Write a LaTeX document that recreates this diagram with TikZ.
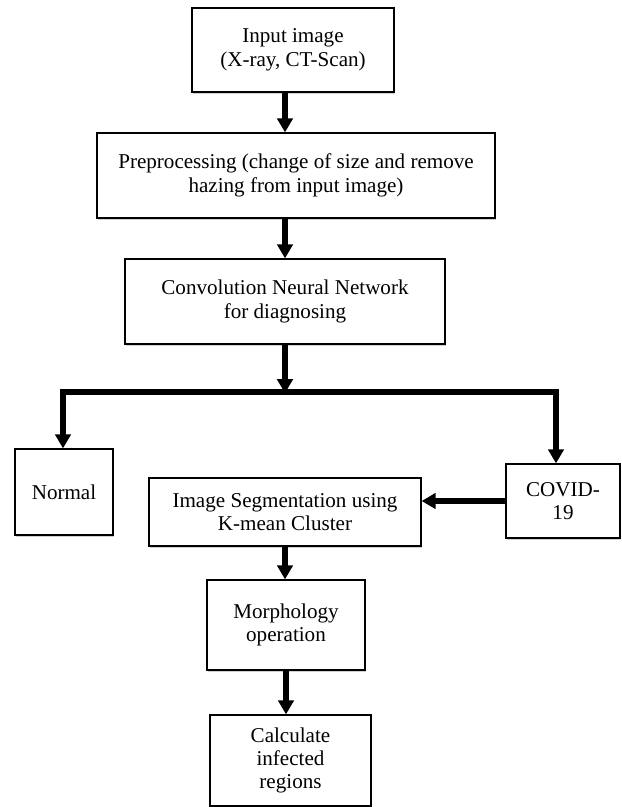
\documentclass[tikz,border=0pt]{standalone}
\usepackage{fontspec}
\setmainfont{Liberation Serif}
\usetikzlibrary{arrows.meta,positioning,shadows}

\begin{document}
\begin{tikzpicture}[
	font=\fontsize{18}{20}\selectfont,
	>={Triangle[width=0.46cm,length=0.42cm]},
	stage/.style={
		rectangle, draw=black, line width=1.1pt, fill=white,
		align=center, inner sep=2pt,
		drop shadow={shadow xshift=0.6pt, shadow yshift=-1.6pt, fill=black!30, opacity=0.6}
	},
	arr/.style={->, line width=4.4pt, black},
	bar/.style={line width=4.4pt, black}
]
\useasboundingbox (0,0) rectangle (18.66,-24.21);

% Main column
\node[stage, minimum width=6.06cm, minimum height=2.52cm] (input) at (8.79, -1.50)
	{Input image\\(X-ray, CT-Scan)};
\node[stage, minimum width=11.94cm, minimum height=2.55cm] (prep) at (8.88, -5.265)
	{Preprocessing (change of size and remove\\hazing from input image)};
\node[stage, minimum width=9.60cm, minimum height=2.55cm] (cnn) at (8.55, -9.045)
	{Convolution Neural Network\\for diagnosing};

\draw[arr] (input.south -| cnn) -- (prep.north -| cnn);
\draw[arr] (prep.south -| cnn) -- (cnn.north);

% Branch to the two outcomes
\coordinate (split)  at (8.55, -11.76);
\coordinate (splitL) at (1.89, -11.76);
\coordinate (splitR) at (16.68, -11.76);

\node[stage, minimum width=2.94cm, minimum height=2.58cm] (normal) at (1.92, -14.76)
	{Normal};
\node[stage, minimum width=3.42cm, minimum height=2.22cm] (covid) at (16.89, -15.03)
	{COVID-\\19};

\draw[arr] (cnn.south) -- ([yshift=-1pt]split);
\draw[bar, line cap=rect] (splitL) -- (splitR);
\draw[arr] (splitL) -- (splitL |- normal.north);
\draw[arr] (splitR) -- (splitR |- covid.north);

% Infected region analysis
\node[stage, minimum width=8.16cm, minimum height=2.04cm] (seg) at (8.55, -15.36)
	{Image Segmentation using\\K-mean Cluster};
\node[stage, minimum width=4.74cm, minimum height=2.70cm] (morph) at (8.58, -18.75)
	{Morphology\\operation};
\node[stage, minimum width=4.83cm, minimum height=2.73cm] (calc) at (8.715, -22.815)
	{Calculate\\infected\\regions};

\draw[arr] (covid.west) -- (covid.west -| seg.east);
\draw[arr] (seg.south) -- (seg.south |- morph.north);
\draw[arr] (morph.south) -- (morph.south |- calc.north);

\end{tikzpicture}
\end{document}
